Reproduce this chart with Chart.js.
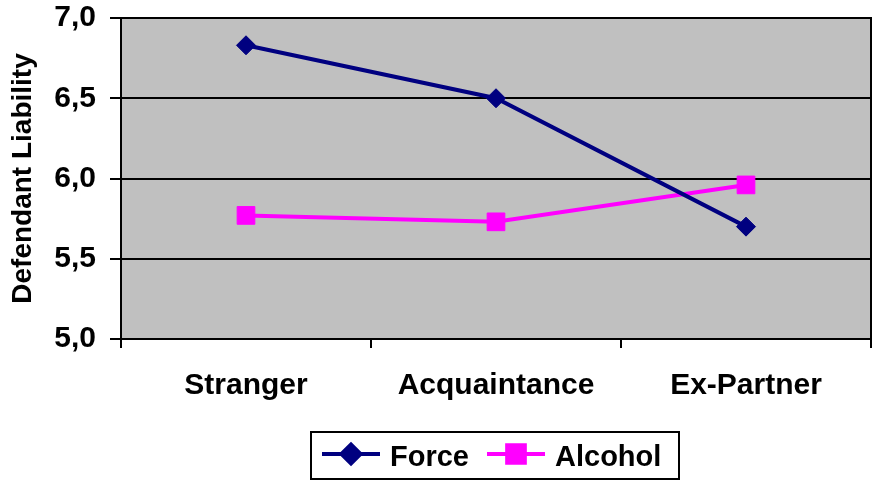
<!DOCTYPE html>
<html>
<head>
<meta charset="utf-8">
<script src="https://cdn.jsdelivr.net/npm/chart.js@4/dist/chart.umd.min.js"></script>
<style>
  html, body { margin: 0; padding: 0; background: #fff; }
  #wrap { width: 878px; height: 481px; position: relative; }
</style>
</head>
<body>
<div id="wrap"><canvas id="chart"></canvas></div>
<script>
const categories = ['Stranger', 'Acquaintance', 'Ex-Partner']
const force = [6.83, 6.50, 5.70]
const alcohol = [5.77, 5.73, 5.96]
const yTickValues = [5.0, 5.5, 6.0, 6.5, 7.0]

const FONT = "'Liberation Sans', Arial, sans-serif"

// grey plot area + black frame, like the old spreadsheet chart
const plotArea = {
  id: 'plotArea',
  beforeDraw(chart) {
    const { ctx, chartArea: a } = chart
    ctx.save()
    ctx.fillStyle = '#C0C0C0'
    ctx.fillRect(a.left, a.top, a.right - a.left, a.bottom - a.top)
    ctx.restore()
  },
  beforeDatasetsDraw(chart) {
    const { ctx, chartArea: a } = chart
    ctx.save()
    ctx.strokeStyle = '#000'
    ctx.lineWidth = 2
    ctx.strokeRect(a.left, a.top, a.right - a.left, a.bottom - a.top)
    ctx.restore()
  }
}

// boxed legend with line-through-marker samples
const boxLegend = {
  id: 'boxLegend',
  afterDraw(chart) {
    const { ctx } = chart
    const box = { x: 311, y: 432, w: 368, h: 47 }
    const cy = 454
    ctx.save()
    ctx.fillStyle = '#fff'
    ctx.fillRect(box.x, box.y, box.w, box.h)
    ctx.strokeStyle = '#000'
    ctx.lineWidth = 2
    ctx.strokeRect(box.x, box.y, box.w, box.h)

    const items = [
      { x0: 322, x1: 380, tx: 390 },
      { x0: 487, x1: 545, tx: 555 }
    ]
    chart.data.datasets.forEach((ds, i) => {
      const it = items[i]
      ctx.strokeStyle = ds.borderColor
      ctx.lineWidth = ds.borderWidth
      ctx.beginPath()
      ctx.moveTo(it.x0, cy)
      ctx.lineTo(it.x1, cy)
      ctx.stroke()
      ctx.fillStyle = ds.pointBackgroundColor
      ctx.strokeStyle = ds.pointBorderColor
      Chart.helpers.drawPoint(ctx, {
        pointStyle: ds.pointStyle,
        radius: ds.pointRadius,
        rotation: 0,
        borderWidth: 1
      }, (it.x0 + it.x1) / 2, cy)
      ctx.fillStyle = '#000'
      ctx.font = 'bold 29px ' + FONT
      ctx.textBaseline = 'alphabetic'
      ctx.textAlign = 'left'
      ctx.fillText(ds.label, it.tx, 466)
    })
    ctx.restore()
  }
}

// let layout.padding alone decide where the plot area sits
const noOverflow = (s) => {
  s.paddingTop = 0
  s.paddingBottom = 0
  s.paddingLeft = 0
  s.paddingRight = 0
}

new Chart(document.getElementById('chart'), {
  type: 'line',
  data: {
    labels: categories,
    datasets: [
      {
        label: 'Force',
        data: force,
        borderColor: '#000080',
        backgroundColor: '#000080',
        pointBackgroundColor: '#000080',
        pointBorderColor: '#000080',
        borderWidth: 4,
        pointStyle: 'rectRot',
        pointRadius: 9.5,
        pointBorderWidth: 1,
        tension: 0
      },
      {
        label: 'Alcohol',
        data: alcohol,
        borderColor: '#FF00FF',
        backgroundColor: '#FF00FF',
        pointBackgroundColor: '#FF00FF',
        pointBorderColor: '#FF00FF',
        borderWidth: 4,
        pointStyle: 'rect',
        pointRadius: 12.5,
        pointBorderWidth: 1,
        tension: 0
      }
    ]
  },
  options: {
    responsive: true,
    maintainAspectRatio: false,
    animation: false,
    layout: {
      autoPadding: false,
      padding: { top: 18, right: 7, bottom: 0, left: 0 }
    },
    plugins: {
      legend: { display: false },
      tooltip: { enabled: false }
    },
    scales: {
      x: {
        offset: true,
        afterFit: (s) => { s.height = 481 - 339; noOverflow(s) },
        border: { color: '#000', width: 2 },
        grid: {
          offset: true,
          drawOnChartArea: false,
          drawTicks: true,
          tickLength: 9,
          color: '#000',
          lineWidth: 2
        },
        ticks: {
          color: '#000',
          padding: 20,
          font: { family: FONT, size: 30, weight: 'bold' },
          maxRotation: 0
        }
      },
      y: {
        min: 5,
        max: 7,
        afterFit: (s) => { s.width = 121; noOverflow(s) },
        afterBuildTicks: (s) => { s.ticks = yTickValues.map((v) => ({ value: v })) },
        border: { color: '#000', width: 2 },
        grid: { color: '#000', lineWidth: 2, tickLength: 11 },
        ticks: {
          color: '#000',
          padding: 14,
          font: { family: FONT, size: 30, weight: 'bold' },
          callback: (v) => Number(v).toFixed(1).replace('.', ',')
        },
        title: {
          display: true,
          text: 'Defendant Liability',
          color: '#000',
          padding: { top: 6, bottom: 0 },
          font: { family: FONT, size: 28, weight: 'bold' }
        }
      }
    }
  },
  plugins: [plotArea, boxLegend]
})
</script>
</body>
</html>
